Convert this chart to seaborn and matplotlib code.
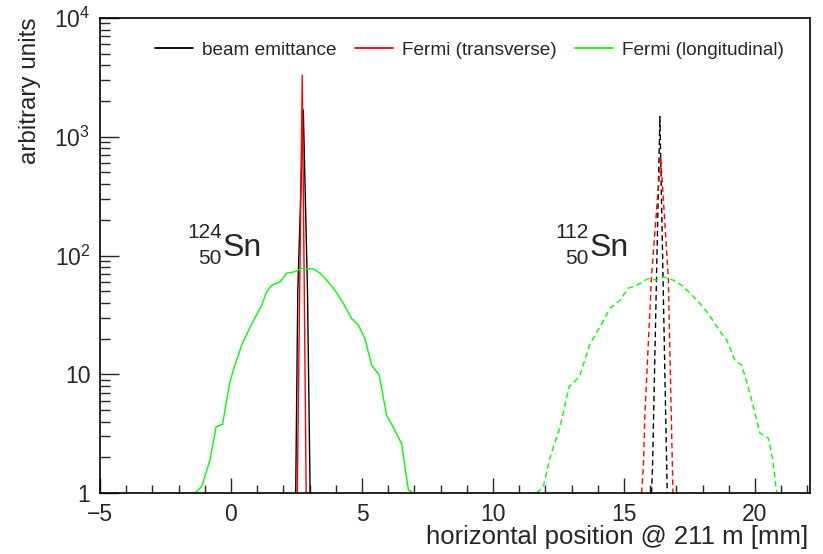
import numpy as np
import pandas as pd
import seaborn as sns
import matplotlib
matplotlib.use("Agg")
import matplotlib.pyplot as plt
from matplotlib.lines import Line2D
from matplotlib.ticker import FixedLocator, FixedFormatter, MultipleLocator, LogLocator, NullFormatter

# ---------------- data ----------------
# 124Sn (solid lines)
emit124_x = [2.47, 2.55, 2.76, 2.92, 3.02]
emit124_y = [1.0, 50, 1680, 50, 1.0]

trans124_x = [2.53, 2.72, 2.87]
trans124_y = [1.0, 3300, 1.0]

long124_x = [-1.50, -1.37, -1.12, -0.80, -0.57, -0.32, -0.23, -0.04, 0.09, 0.41, 0.73, 1.17,
             1.36, 1.55, 1.87, 2.13, 2.44, 2.70, 3.14, 3.40, 3.65, 3.97, 4.29, 4.60,
             4.86, 5.11, 5.37, 5.66, 5.94, 6.19, 6.51, 6.77, 6.96]
long124_y = [1.0, 1.0, 1.13, 1.9, 3.6, 3.8, 5.0, 8.6, 10.9, 17.6, 25, 38,
             49.5, 56, 60, 71, 73, 78, 77, 71, 62, 51, 39.5, 29.5,
             26, 20, 11.9, 9.8, 4.5, 3.6, 2.6, 1.06, 1.0]

# 112Sn (dashed lines)
emit112_x = [16.05, 16.09, 16.37, 16.65]
emit112_y = [1.0, 1.67, 1475, 1.0]

trans112_x = [15.67, 15.74, 15.80, 16.05, 16.40, 16.69, 16.87]
trans112_y = [1.0, 1.67, 4.7, 66, 680, 66, 1.0]

long112_x = [11.67, 11.92, 12.18, 12.56, 12.91, 13.07, 13.32, 13.70, 14.08, 14.47, 14.85,
             15.16, 15.48, 15.93, 16.25, 16.50, 16.88, 17.26, 17.65, 18.02, 18.34,
             18.66, 18.92, 19.24, 19.49, 19.81, 20.19, 20.51, 20.67, 20.83]
long112_y = [1.0, 1.13, 2.0, 3.6, 7.9, 8.4, 9.8, 18, 25, 36, 42,
             53, 56, 64, 62, 66, 62, 55, 45, 37, 29.5,
             23, 19.5, 13, 12, 6.9, 3.2, 2.9, 1.96, 1.0]

legend_labels = ["beam emittance", "Fermi (transverse)", "Fermi (longitudinal)"]
series_colors = ["#000000", "#ff0000", "#00ff00"]

x_ticks = [-5, 0, 5, 10, 15, 20]
y_ticks = [1, 10, 100, 1000, 10000]
y_ticklabels = ["1", "10", r"$\mathregular{10^{2}}$", r"$\mathregular{10^{3}}$", r"$\mathregular{10^{4}}$"]

# ---------------- style ----------------
sns.set_style("ticks")
plt.rcParams["font.family"] = ["Liberation Sans", "DejaVu Sans"]
plt.rcParams["axes.unicode_minus"] = True

fig = plt.figure(figsize=(8.23, 5.54), dpi=100)
ax = fig.add_axes([100 / 823, 1 - 493 / 554, 710 / 823, 475 / 554])

solid_lw = 1.0
dash_style = (0, (4, 2.6))

groups = [
    (emit124_x, emit124_y, series_colors[0], "-"),
    (trans124_x, trans124_y, series_colors[1], "-"),
    (long124_x, long124_y, series_colors[2], "-"),
    (emit112_x, emit112_y, series_colors[0], dash_style),
    (trans112_x, trans112_y, series_colors[1], dash_style),
    (long112_x, long112_y, series_colors[2], dash_style),
]
for xs, ys, col, ls in groups:
    df = pd.DataFrame({"x": xs, "y": ys})
    sns.lineplot(data=df, x="x", y="y", sort=False, estimator=None, ax=ax,
                 color=col, linestyle=ls, linewidth=solid_lw)

ax.set_yscale("log")
ax.set_xlim(-5, 22.1)
ax.set_ylim(1, 10000)

# ticks
ax.xaxis.set_major_locator(FixedLocator(x_ticks))
ax.xaxis.set_minor_locator(MultipleLocator(1))
ax.yaxis.set_major_locator(FixedLocator(y_ticks))
ax.yaxis.set_major_formatter(FixedFormatter(y_ticklabels))
ax.yaxis.set_minor_locator(LogLocator(base=10, subs=np.arange(2, 10), numticks=20))
ax.yaxis.set_minor_formatter(NullFormatter())

ax.tick_params(axis="x", which="major", direction="in", length=11, width=1.0,
               labelsize=16.5, pad=7, top=False)
ax.tick_params(axis="x", which="minor", direction="in", length=5.8, width=1.0, top=False)
ax.tick_params(axis="y", which="major", direction="in", length=14, width=1.0,
               labelsize=16.5, pad=7, right=False)
ax.tick_params(axis="y", which="minor", direction="in", length=7, width=1.0, right=False)

for sp in ax.spines.values():
    sp.set_visible(True)
    sp.set_linewidth(1.2)
    sp.set_color("black")

# axis titles
ax.set_xlabel("horizontal position @ 211 m [mm]", fontsize=18.5, loc="right")
ax.xaxis.set_label_coords(0.997, -0.068)
ax.set_ylabel("arbitrary units", fontsize=17.5, loc="top")
ax.yaxis.set_label_coords(-0.083, 1.0)

# isotope labels
def isotope(ax, x, mass, charge, sym):
    ax.text(x, 99, sym, fontsize=23, ha="left", va="baseline")
    ax.text(x - 0.04, 140, mass, fontsize=15, ha="right", va="baseline")
    ax.text(x - 0.04, 84, charge, fontsize=15, ha="right", va="baseline")

isotope(ax, -0.31, "124", "50", "Sn")
isotope(ax, 13.70, "112", "50", "Sn")

# legend
handles = [Line2D([0], [0], color=c, lw=1.3) for c in series_colors]
leg = fig.legend(handles, legend_labels, ncol=3, frameon=False, fontsize=13.7,
                 loc="center left", bbox_to_anchor=(155 / 823, 1 - 50 / 554),
                 borderpad=0, borderaxespad=0, handlelength=2.0,
                 handletextpad=0.45, columnspacing=1.0)

fig.savefig("out.png", dpi=100)
